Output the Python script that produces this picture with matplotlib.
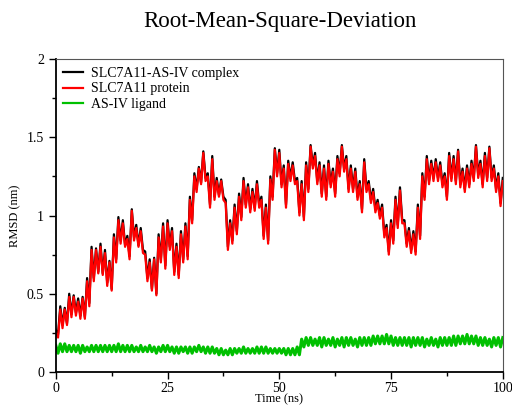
import numpy as np
import matplotlib
matplotlib.use("Agg")
import matplotlib.pyplot as plt
from matplotlib.ticker import MultipleLocator

plt.rcParams['font.family'] = ['Liberation Serif', 'DejaVu Serif']

# RMSD values (nm): peak at each whole ns,
# trough at each half ns
complex_hi = [0.27, 0.42, 0.41, 0.50, 0.49, 0.47, 0.48, 0.60, 0.80, 0.79,
              0.82, 0.78, 0.71, 0.88, 0.99, 0.97, 0.87, 1.04, 0.94, 0.92,
              0.77, 0.72, 0.73, 0.88, 0.95, 0.97, 0.92, 0.82, 0.90, 0.95,
              1.12, 1.27, 1.31, 1.41, 1.27, 1.38, 1.24, 1.23, 1.10, 0.97,
              1.07, 1.14, 1.24, 1.20, 1.17, 1.22, 1.12, 1.07, 1.25, 1.43,
              1.42, 1.32, 1.35, 1.34, 1.24, 1.22, 1.34, 1.45, 1.40, 1.34,
              1.32, 1.35, 1.30, 1.38, 1.45, 1.38, 1.32, 1.30, 1.22, 1.36,
              1.22, 1.17, 1.10, 1.07, 0.94, 0.97, 1.12, 1.18, 0.97, 0.92,
              0.90, 1.07, 1.27, 1.38, 1.35, 1.36, 1.34, 1.27, 1.40, 1.38,
              1.42, 1.30, 1.32, 1.35, 1.45, 1.35, 1.40, 1.44, 1.32, 1.27,
              1.24]
complex_lo = [0.24, 0.30, 0.31, 0.37, 0.38, 0.36, 0.35, 0.44, 0.60, 0.64,
              0.63, 0.57, 0.53, 0.72, 0.84, 0.81, 0.74, 0.86, 0.81, 0.78,
              0.60, 0.53, 0.50, 0.72, 0.68, 0.80, 0.64, 0.62, 0.72, 0.74,
              0.97, 1.17, 1.21, 1.24, 1.07, 1.12, 1.13, 1.12, 0.80, 0.84,
              0.90, 0.99, 1.07, 1.04, 1.05, 1.07, 0.87, 0.84, 1.12, 1.27,
              1.20, 1.07, 1.24, 1.22, 1.02, 0.99, 1.17, 1.32, 1.22, 1.14,
              1.12, 1.20, 1.14, 1.27, 1.30, 1.17, 1.17, 1.12, 1.04, 1.17,
              1.10, 1.04, 1.00, 0.88, 0.77, 0.84, 0.94, 0.97, 0.82, 0.78,
              0.77, 0.87, 1.12, 1.22, 1.24, 1.24, 1.20, 1.12, 1.24, 1.22,
              1.20, 1.17, 1.20, 1.24, 1.26, 1.20, 1.24, 1.24, 1.17, 1.08]

protein_hi = [0.25, 0.40, 0.40, 0.48, 0.48, 0.45, 0.47, 0.58, 0.78, 0.78,
              0.80, 0.76, 0.70, 0.86, 0.97, 0.95, 0.85, 1.03, 0.92, 0.90,
              0.75, 0.70, 0.72, 0.86, 0.93, 0.95, 0.90, 0.80, 0.88, 0.93,
              1.10, 1.25, 1.30, 1.40, 1.25, 1.36, 1.22, 1.22, 1.08, 0.95,
              1.05, 1.12, 1.22, 1.18, 1.15, 1.20, 1.10, 1.05, 1.23, 1.42,
              1.40, 1.30, 1.33, 1.32, 1.22, 1.20, 1.32, 1.44, 1.38, 1.32,
              1.30, 1.33, 1.28, 1.36, 1.44, 1.36, 1.30, 1.28, 1.20, 1.34,
              1.20, 1.15, 1.08, 1.05, 0.92, 0.95, 1.10, 1.16, 0.95, 0.90,
              0.88, 1.05, 1.25, 1.36, 1.33, 1.34, 1.32, 1.25, 1.38, 1.36,
              1.41, 1.28, 1.30, 1.33, 1.44, 1.33, 1.38, 1.43, 1.30, 1.25,
              1.22]
protein_lo = [0.22, 0.28, 0.30, 0.35, 0.36, 0.34, 0.34, 0.42, 0.58, 0.63,
              0.62, 0.55, 0.52, 0.70, 0.82, 0.80, 0.72, 0.84, 0.80, 0.76,
              0.58, 0.52, 0.49, 0.70, 0.66, 0.78, 0.62, 0.60, 0.70, 0.72,
              0.95, 1.15, 1.20, 1.22, 1.05, 1.10, 1.12, 1.10, 0.78, 0.82,
              0.88, 0.97, 1.05, 1.02, 1.03, 1.05, 0.85, 0.82, 1.10, 1.25,
              1.18, 1.05, 1.22, 1.20, 1.00, 0.97, 1.15, 1.30, 1.20, 1.12,
              1.10, 1.18, 1.12, 1.25, 1.28, 1.15, 1.15, 1.10, 1.02, 1.15,
              1.08, 1.02, 0.98, 0.86, 0.75, 0.82, 0.92, 0.95, 0.80, 0.76,
              0.75, 0.85, 1.10, 1.20, 1.22, 1.22, 1.18, 1.10, 1.22, 1.20,
              1.18, 1.15, 1.18, 1.22, 1.24, 1.18, 1.22, 1.22, 1.15, 1.06]

ligand_hi = [0.17, 0.18, 0.18, 0.17, 0.17, 0.17, 0.17, 0.16, 0.17, 0.17,
             0.17, 0.17, 0.17, 0.17, 0.18, 0.17, 0.17, 0.17, 0.16, 0.17,
             0.16, 0.17, 0.16, 0.16, 0.17, 0.17, 0.16, 0.16, 0.16, 0.16,
             0.16, 0.16, 0.17, 0.16, 0.16, 0.16, 0.15, 0.15, 0.14, 0.15,
             0.15, 0.15, 0.16, 0.15, 0.15, 0.16, 0.16, 0.16, 0.15, 0.15,
             0.15, 0.15, 0.15, 0.15, 0.16, 0.21, 0.22, 0.22, 0.21, 0.22,
             0.22, 0.21, 0.22, 0.21, 0.22, 0.22, 0.22, 0.21, 0.22, 0.22,
             0.22, 0.23, 0.23, 0.23, 0.24, 0.23, 0.22, 0.22, 0.22, 0.22,
             0.22, 0.22, 0.22, 0.21, 0.22, 0.21, 0.22, 0.22, 0.22, 0.23,
             0.23, 0.23, 0.24, 0.23, 0.23, 0.22, 0.22, 0.21, 0.22, 0.22,
             0.22]
ligand_lo = [0.12, 0.13, 0.13, 0.13, 0.13, 0.12, 0.13, 0.13, 0.13, 0.13,
             0.13, 0.13, 0.13, 0.13, 0.13, 0.13, 0.13, 0.13, 0.13, 0.13,
             0.13, 0.13, 0.12, 0.13, 0.13, 0.13, 0.12, 0.12, 0.13, 0.12,
             0.12, 0.13, 0.13, 0.12, 0.12, 0.12, 0.11, 0.11, 0.11, 0.11,
             0.12, 0.12, 0.12, 0.12, 0.12, 0.12, 0.12, 0.12, 0.12, 0.12,
             0.12, 0.11, 0.11, 0.11, 0.11, 0.16, 0.17, 0.17, 0.17, 0.16,
             0.17, 0.17, 0.16, 0.17, 0.16, 0.17, 0.17, 0.16, 0.17, 0.17,
             0.17, 0.18, 0.18, 0.18, 0.18, 0.17, 0.17, 0.17, 0.17, 0.16,
             0.17, 0.17, 0.16, 0.17, 0.17, 0.16, 0.17, 0.17, 0.17, 0.17,
             0.18, 0.18, 0.18, 0.18, 0.17, 0.17, 0.17, 0.16, 0.17, 0.16]


def trace(hi, lo):
    # interleave peaks (whole ns) and troughs (half ns) into one time series
    t_hi = np.arange(len(hi), dtype=float)
    t_lo = t_hi[:len(lo)] + 0.5
    t = np.empty(len(hi) + len(lo))
    y = np.empty(len(hi) + len(lo))
    t[0::2], t[1::2] = t_hi, t_lo
    y[0::2], y[1::2] = hi, lo
    return t, y


fig = plt.figure(figsize=(5.12, 4.07), dpi=100)
ax = fig.add_axes([0.109, 0.086, 0.873, 0.769])

t, y = trace(complex_hi, complex_lo)
ax.plot(t, y, color='black', lw=1.6, label='SLC7A11-AS-IV complex')
t, y = trace(protein_hi, protein_lo)
ax.plot(t, y, color='#ff0000', lw=1.6, label='SLC7A11 protein')
t, y = trace(ligand_hi, ligand_lo)
ax.plot(t, y, color='#00c000', lw=2.2, label='AS-IV ligand')

ax.set_xlim(0, 100)
ax.set_ylim(0, 2)
ax.xaxis.set_major_locator(MultipleLocator(25))
ax.xaxis.set_minor_locator(MultipleLocator(12.5))
ax.yaxis.set_minor_locator(MultipleLocator(0.25))
ax.set_yticks([0, 0.5, 1, 1.5, 2])
ax.set_yticklabels(['0', '0.5', '1', '1.5', '2'])
ax.tick_params(which='both', direction='out', top=False, right=False,
               labelsize=10)
ax.tick_params(axis='x', pad=2)
ax.tick_params(which='major', length=5, width=1)
ax.tick_params(which='minor', length=3, width=1)
for side in ['left', 'bottom']:
    ax.spines[side].set_linewidth(1.3)
for side in ['top', 'right']:
    ax.spines[side].set_color('#555555')

ax.set_xlabel('Time (ns)', fontsize=9, labelpad=-1)
ax.set_ylabel('RMSD (nm)', fontsize=9, labelpad=4)
fig.suptitle('Root-Mean-Square-Deviation', fontsize=16.5, x=0.546, y=0.972)

leg = ax.legend(loc='upper left', frameon=False, fontsize=10,
                handlelength=1.4, labelspacing=0.2, borderaxespad=0.15,
                handletextpad=0.6)
for line in leg.get_lines():
    line.set_linewidth(1.6)

fig.savefig('out.png', dpi=100)
